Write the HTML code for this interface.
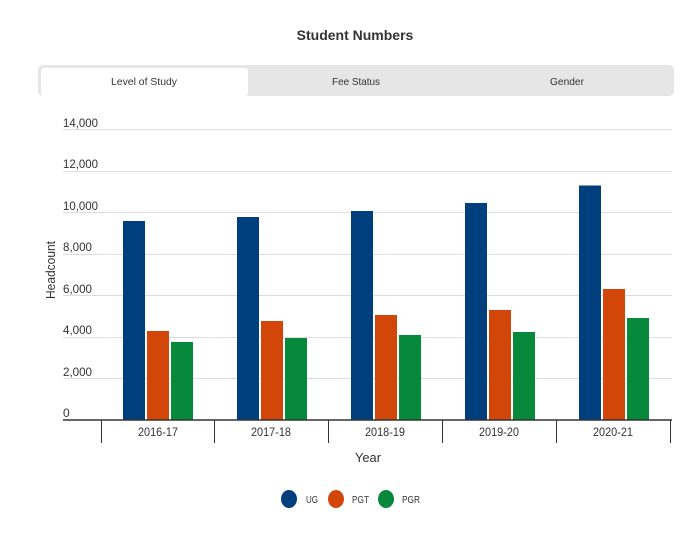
<!DOCTYPE html><html><head><style>body{margin:0;background:#fff;font-family:"Liberation Sans",sans-serif}</style></head><body>
<svg width="699" height="533" xmlns="http://www.w3.org/2000/svg" font-family="Liberation Sans, sans-serif">
<text x="355" y="40" text-anchor="middle" font-size="14" font-weight="bold" fill="#333">Student Numbers</text>
<rect x="38" y="65" width="636" height="31" rx="5" fill="#e6e6e6"/>
<rect x="41" y="68" width="207" height="28" rx="3" fill="#fff"/>
<text x="144" y="85" text-anchor="middle" font-size="10.5" fill="#333" textLength="66" lengthAdjust="spacingAndGlyphs">Level of Study</text>
<text x="356" y="85" text-anchor="middle" font-size="10.5" fill="#333" textLength="48" lengthAdjust="spacingAndGlyphs">Fee Status</text>
<text x="567" y="85" text-anchor="middle" font-size="10.5" fill="#333" textLength="34" lengthAdjust="spacingAndGlyphs">Gender</text>
<g stroke="#ddd" stroke-width="1">
<line x1="63" x2="672" y1="129.5" y2="129.5"/><line x1="63" x2="672" y1="171.5" y2="171.5"/><line x1="63" x2="672" y1="212.5" y2="212.5"/><line x1="63" x2="672" y1="254.5" y2="254.5"/><line x1="63" x2="672" y1="295.5" y2="295.5"/><line x1="63" x2="672" y1="337.5" y2="337.5"/><line x1="63" x2="672" y1="378.5" y2="378.5"/>
</g>
<g font-size="12" fill="#333" lengthAdjust="spacingAndGlyphs">
<text x="63" y="127" textLength="35" lengthAdjust="spacingAndGlyphs">14,000</text><text x="63" y="168" textLength="35" lengthAdjust="spacingAndGlyphs">12,000</text><text x="63" y="210" textLength="35" lengthAdjust="spacingAndGlyphs">10,000</text><text x="63" y="251" textLength="29" lengthAdjust="spacingAndGlyphs">8,000</text><text x="63" y="293" textLength="29" lengthAdjust="spacingAndGlyphs">6,000</text><text x="63" y="334" textLength="29" lengthAdjust="spacingAndGlyphs">4,000</text><text x="63" y="376" textLength="29" lengthAdjust="spacingAndGlyphs">2,000</text><text x="63" y="417">0</text>
</g>
<text transform="translate(55,270) rotate(-90)" text-anchor="middle" font-size="13" fill="#333" textLength="58" lengthAdjust="spacingAndGlyphs">Headcount</text>
<g fill="#003f7d">
<rect x="123" y="221" width="22" height="199"/><rect x="237" y="217" width="22" height="203"/><rect x="351" y="211" width="22" height="209"/><rect x="465" y="203" width="22" height="217"/><rect x="579" y="185.5" width="22" height="234.5"/>
</g>
<g fill="#d2460a">
<rect x="147" y="331" width="22" height="89"/><rect x="261" y="321" width="22" height="99"/><rect x="375" y="315" width="22" height="105"/><rect x="489" y="310" width="22" height="110"/><rect x="603" y="289" width="22" height="131"/>
</g>
<g fill="#06893a">
<rect x="171" y="342" width="22" height="78"/><rect x="285" y="338" width="22" height="82"/><rect x="399" y="335" width="22" height="85"/><rect x="513" y="332" width="22" height="88"/><rect x="627" y="318" width="22" height="102"/>
</g>
<line x1="63" x2="672" y1="420" y2="420" stroke="#333" stroke-width="1.5"/>
<g stroke="#333" stroke-width="1">
<line x1="101.5" x2="101.5" y1="420" y2="443"/><line x1="214.5" x2="214.5" y1="420" y2="443"/><line x1="328.5" x2="328.5" y1="420" y2="443"/><line x1="442.5" x2="442.5" y1="420" y2="443"/><line x1="556.5" x2="556.5" y1="420" y2="443"/><line x1="670.5" x2="670.5" y1="420" y2="443"/>
</g>
<g font-size="12" fill="#333" text-anchor="middle">
<text x="158" y="436" textLength="40" lengthAdjust="spacingAndGlyphs">2016-17</text><text x="271" y="436" textLength="40" lengthAdjust="spacingAndGlyphs">2017-18</text><text x="385" y="436" textLength="40" lengthAdjust="spacingAndGlyphs">2018-19</text><text x="499" y="436" textLength="40" lengthAdjust="spacingAndGlyphs">2019-20</text><text x="613" y="436" textLength="40" lengthAdjust="spacingAndGlyphs">2020-21</text>
</g>
<text x="368" y="462" text-anchor="middle" font-size="13" fill="#333" textLength="26" lengthAdjust="spacingAndGlyphs">Year</text>
<ellipse cx="289" cy="499" rx="8" ry="9" fill="#003f7d"/><text x="306" y="503" font-size="10" fill="#333" textLength="12" lengthAdjust="spacingAndGlyphs">UG</text>
<ellipse cx="336" cy="499" rx="8" ry="9" fill="#d2460a"/><text x="352" y="503" font-size="10" fill="#333" textLength="17" lengthAdjust="spacingAndGlyphs">PGT</text>
<ellipse cx="386" cy="499" rx="8" ry="9" fill="#06893a"/><text x="402" y="503" font-size="10" fill="#333" textLength="18" lengthAdjust="spacingAndGlyphs">PGR</text>
</svg>
</body></html>
